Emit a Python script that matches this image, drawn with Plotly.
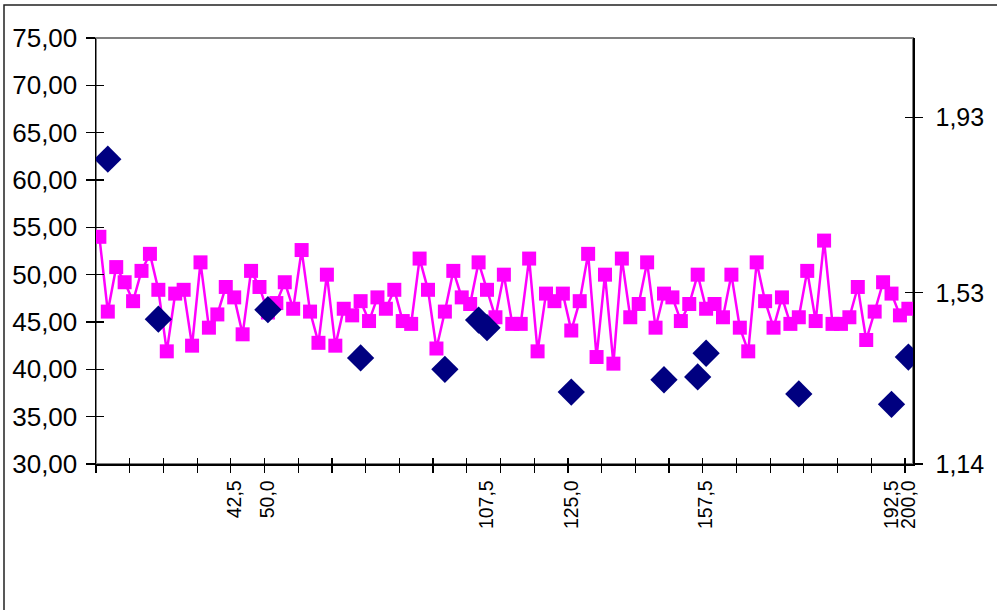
import plotly.graph_objects as go

# ---------------- data ----------------
pink_values = [
    54.0, 46.1, 50.8, 49.2, 47.2, 50.4, 52.2, 48.4, 41.9, 48.0,
    48.4, 42.5, 51.3, 44.4, 45.8, 48.7, 47.6, 43.7, 50.4, 48.7,
    46.0, 47.0, 49.2, 46.4, 52.6, 46.1, 42.8, 50.0, 42.5, 46.4,
    45.7, 47.2, 45.1, 47.6, 46.4, 48.4, 45.1, 44.8, 51.7, 48.4,
    42.2, 46.1, 50.4, 47.6, 46.9, 51.3, 48.4, 45.5, 50.0, 44.8,
    44.8, 51.7, 41.9, 48.0, 47.2, 48.0, 44.1, 47.2, 52.2, 41.3,
    50.0, 40.6, 51.7, 45.5, 46.9, 51.3, 44.4, 48.0, 47.6, 45.1,
    46.9, 50.0, 46.4, 46.9, 45.5, 50.0, 44.4, 41.9, 51.3, 47.2,
    44.4, 47.6, 44.8, 45.5, 50.4, 45.1, 53.6, 44.8, 44.8, 45.5,
    48.7, 43.1, 46.1, 49.2, 48.0, 45.7, 46.4,
]
pink_x = list(range(len(pink_values)))

diamond_x = [1, 7, 20, 31, 41, 45, 46, 56, 67, 71, 72, 83, 94, 96]
diamond_values = [62.2, 45.3, 46.3, 41.2, 40.0, 45.2, 44.4, 37.6, 38.9, 39.2,
                  41.7, 37.4, 36.3, 41.3]

label_pos = [16, 20, 46, 56, 72, 94, 96]
label_text = ["42,5", "50,0", "107,5", "125,0", "157,5", "192,5", "200,0"]

left_ticks = [30, 35, 40, 45, 50, 55, 60, 65, 70, 75]
right_tickvals = [1.14, 1.53, 1.93]
right_ticktext = ["1,14", "1,53", "1,93"]

# ---------------- layout geometry ----------------
W, H = 997, 610
L, R, T, B = 96, 84, 38, 146
PW, PH = W - L - R, H - T - B
X_RANGE = [-0.4, 96.55]
tick_marks = [X_RANGE[0] + 4 * k for k in range(25)]
LEFT_RANGE = [30, 75]
RIGHT_RANGE = [1.14, 2.111]

FONT = "Liberation Sans, Arial, sans-serif"
AX = "#000000"

fig = go.Figure()
fig.add_trace(go.Scatter(
    x=pink_x, y=pink_values, mode="lines+markers",
    line=dict(color="#FF00FF", width=2.5),
    marker=dict(symbol="square", size=14, color="#FF00FF"),
    showlegend=False, hoverinfo="skip",
))
fig.add_trace(go.Scatter(
    x=diamond_x, y=diamond_values, mode="markers",
    marker=dict(symbol="diamond", size=21, color="#000080"),
    showlegend=False, hoverinfo="skip",
))
# empty traces so the overlay axes (tick crossings, right axis) are drawn
for xa, ya in [("x2", "y"), ("x3", "y"), ("x", "y2"), ("x", "y3"), ("x", "y4")]:
    fig.add_trace(go.Scatter(x=[None], y=[None], xaxis=xa, yaxis=ya,
                             showlegend=False, hoverinfo="skip"))

common = dict(showgrid=False, zeroline=False, automargin=False)

fig.update_layout(
    template="none",
    width=W, height=H, autosize=False,
    margin=dict(l=L, r=R, t=T, b=B, pad=0),
    paper_bgcolor="white", plot_bgcolor="white",
    separators=",.",
    font=dict(family=FONT, color="black"),
    hovermode=False,
    xaxis=dict(range=X_RANGE, tickmode="array", tickvals=label_pos,
               ticktext=label_text, tickangle=-90, ticks="",
               showline=True, linecolor=AX, linewidth=1.5,
               tickfont=dict(size=19.5, family=FONT, color="black"),
               ticklabelstandoff=7, anchor="y", **common),
    xaxis2=dict(range=X_RANGE, overlaying="x", anchor="y", side="bottom",
                tickmode="array", tickvals=tick_marks, ticks="outside",
                ticklen=8, tickwidth=1.2, tickcolor=AX,
                showticklabels=False, showline=False, **common),
    xaxis3=dict(range=X_RANGE, overlaying="x", anchor="y", side="bottom",
                tickmode="array", tickvals=tick_marks, ticks="inside",
                ticklen=6, tickwidth=1.2, tickcolor=AX,
                showticklabels=False, showline=False, **common),
    yaxis=dict(range=LEFT_RANGE, tickmode="array", tickvals=left_ticks,
               tickformat=".2f", ticks="outside", ticklen=9, tickwidth=1.2,
               tickcolor=AX, showline=True, linecolor=AX, linewidth=1.5,
               tickfont=dict(size=26, family=FONT, color="black"),
               ticklabelstandoff=3, anchor="x", **common),
    yaxis3=dict(range=LEFT_RANGE, overlaying="y", side="left", anchor="x",
                tickmode="array", tickvals=left_ticks, ticks="inside",
                ticklen=8, tickwidth=1.2, tickcolor=AX,
                showticklabels=False, showline=False, **common),
    yaxis2=dict(range=RIGHT_RANGE, overlaying="y", side="right", anchor="x",
                tickmode="array", tickvals=right_tickvals,
                ticktext=right_ticktext, ticks="outside", ticklen=8,
                tickwidth=1.2, tickcolor=AX, showline=True, linecolor=AX,
                linewidth=1.5,
                tickfont=dict(size=25, family=FONT, color="black"),
                ticklabelstandoff=8, **common),
    yaxis4=dict(range=RIGHT_RANGE, overlaying="y", side="right", anchor="x",
                tickmode="array", tickvals=right_tickvals, ticks="inside",
                ticklen=8, tickwidth=1.2, tickcolor=AX,
                showticklabels=False, showline=False, **common),
    shapes=[
        # plot-area border (grey, visible on top edge)
        dict(type="rect", xref="paper", yref="paper", x0=0, x1=1, y0=0, y1=1,
             line=dict(color="#808080", width=2), layer="below"),
        # outer chart frame (only left and top edges visible)
        dict(type="rect", xref="paper", yref="paper",
             x0=(4 - L) / PW, x1=(W + 20 - L) / PW,
             y0=-(B + 20) / PH, y1=(T + PH - 5) / PH,
             line=dict(color="#222222", width=1.5), layer="below"),
    ],
)

fig.write_html(
    "out.html",
    config={"displayModeBar": False, "staticPlot": True},
    post_script="document.body.style.margin='0';document.body.style.padding='0';"
                "document.documentElement.style.overflow='hidden';",
)
